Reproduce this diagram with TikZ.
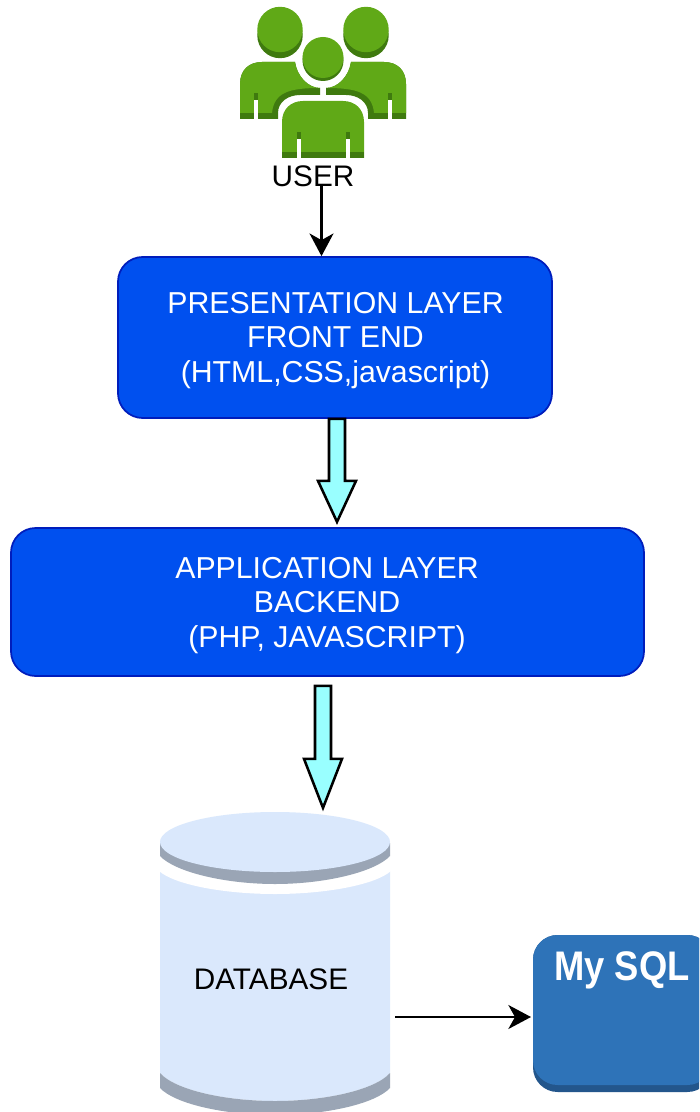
\documentclass[tikz,border=0pt]{standalone}
\usepackage{fontspec}
\setmainfont{Liberation Sans}
\usetikzlibrary{arrows.meta,calc}
\definecolor{grn}{HTML}{60A917}
\definecolor{grnd}{HTML}{3F7A0F}
\definecolor{layerfill}{HTML}{0050EF}
\definecolor{layerline}{HTML}{001DBC}
\definecolor{cyanfill}{HTML}{99FFFF}
\definecolor{dblight}{HTML}{DAE8FC}
\definecolor{dbdark}{HTML}{9AA5B5}
\definecolor{sqlblue}{HTML}{2E73B8}
\definecolor{sqldark}{HTML}{23568C}
\tikzset{
  layer/.style={draw=layerline,fill=layerfill,line width=1.3pt,rounded corners=18.5pt,inner sep=0pt},
  layertext/.style={text=white,align=center,inner sep=0pt,font=\fontsize{22.7}{26}\selectfont},
  blockarrow/.style={draw=black,fill=cyanfill,line width=1.9pt,line join=miter},
  thinarrow/.style={draw=black,line width=1.6pt,-{Stealth[length=17pt,width=18pt,inset=5pt]}},
  label/.style={inner sep=0pt,font=\fontsize{22.3}{26}\selectfont,text=black},
  ghost/.style={inner sep=0pt,outer sep=0pt}
}
\newcommand{\bodyL}{(240,119) -- (240,84) .. controls (240,70) and (249,62) .. (262,62) -- (295,62) .. controls (297,76) and (308,88) .. (320,88) -- (320,95) -- (300,95) .. controls (288,95) and (278,102) .. (278,113) -- (278,119) -- cycle}
\newcommand{\bodyLtop}{(240,113) -- (240,84) .. controls (240,70) and (249,62) .. (262,62) -- (295,62) .. controls (297,76) and (308,88) .. (320,88) .. controls (290,88) and (274,92) .. (272,113) -- cycle}
\begin{document}
\begin{tikzpicture}[x=0.75pt,y=-0.75pt]
\useasboundingbox (0,0) rectangle (699,1112);
\clip (0,0) rectangle (699,1112);
\fill[white] (0,0) rectangle (699,1112);
% users
\fill[grnd] \bodyL;
\fill[grn] \bodyLtop;
\fill[grnd] (254,93) rectangle (258,100);
\fill[white] (254,100) rectangle (258,120);
\begin{scope}[xshift=484.5pt,xscale=-1]
\fill[grnd] \bodyL;
\fill[grn] \bodyLtop;
\fill[grnd] (254,93) rectangle (258,100);
\fill[white] (254,100) rectangle (258,120);
\end{scope}
\fill[grnd] (280,35.5) circle[radius=22.7];
\fill[grn] (280,29.5) circle[radius=22.7];
\fill[grnd] (366,35.5) circle[radius=22.7];
\fill[grn] (366,29.5) circle[radius=22.7];
\fill[grnd] (323,60.5) circle[radius=20.5];
\fill[grn] (323,57.5) circle[radius=20.5];
\fill[grn] (282,158) -- (282,122) .. controls (282,109) and (291,101) .. (303,101) -- (343,101) .. controls (355,101) and (364,109) .. (364,122) -- (364,158) -- cycle;
\fill[grnd] (282,152) rectangle (364,158);
\fill[grnd] (297,132) rectangle (300.5,139);
\fill[white] (297,139) rectangle (300.5,159);
\fill[grnd] (346,132) rectangle (349.5,139);
\fill[white] (346,139) rectangle (349.5,159);
\node[label] (user) at (313,176) {USER};
% layers
\node[layer,minimum width=434*0.75pt,minimum height=161*0.75pt] (pres) at (335,337.5) {};
\node[layertext] (prestext) at (335.5,340.5)
  {PRESENTATION LAYER\\FRONT END\\(HTML,CSS,javascript)};
\node[layer,minimum width=633*0.75pt,minimum height=148*0.75pt] (app) at (327.5,602) {};
\node[layertext] (apptext) at (327,605.5)
  {APPLICATION LAYER\\BACKEND\\(PHP, JAVASCRIPT)};
\coordinate (ustart) at ($(user.south)+(8.5,-3)$);
\draw[thinarrow] (ustart) -- (ustart |- pres.north);
% block arrows
\coordinate (a1) at ($(pres.south)+(2,0)$);
\draw[blockarrow] (a1) ++(-8,0) -- ++(0,62) -- ++(-11,0) -- ++(19,41) -- ++(19,-41) -- ++(-11,0) -- ++(0,-62) -- cycle;
\coordinate (a2) at ($(app.south)+(-4.5,9)$);
\draw[blockarrow] (a2) ++(-8,0) -- ++(0,73) -- ++(-11,0) -- ++(19,49) -- ++(19,-49) -- ++(-11,0) -- ++(0,-73) -- cycle;
% database
\fill[dblight] (160,871) -- (160,1073) .. controls (175,1090) and (225,1101) .. (275,1101) .. controls (325,1101) and (375,1090) .. (390,1073) -- (390,871) -- cycle;
\fill[dbdark] (160,1073) .. controls (175,1090) and (225,1101) .. (275,1101) .. controls (325,1101) and (375,1090) .. (390,1073) -- (390,1088) .. controls (375,1104) and (325,1115) .. (275,1115) .. controls (225,1115) and (175,1104) .. (160,1088) -- cycle;
\fill[white] (159,871) .. controls (175,885) and (225,894) .. (275,894) .. controls (325,894) and (375,885) .. (391,871) -- (391,850) -- (159,850) -- cycle;
\fill[dbdark] (160,843) -- (160,856) .. controls (175,872) and (225,884) .. (275,884) .. controls (325,884) and (375,872) .. (390,856) -- (390,843) -- cycle;
\fill[dblight] (275,842) ellipse[x radius=115,y radius=30];
\node[label] (db) at (271,979) {DATABASE};
% mysql
\node[ghost,fill=sqldark,rounded corners=18.5pt,minimum width=179*0.75pt,minimum height=157*0.75pt] (mysqlbase) at (622.5,1013.5) {};
\node[ghost,fill=sqlblue,rounded corners=18.5pt,minimum width=179*0.75pt,minimum height=150*0.75pt] (mysql) at (622.5,1010) {};
\node[inner sep=0pt,text=white,xscale=0.88,font=\fontsize{31}{36}\bfseries\selectfont] (sqltext) at (622,970) {My SQL};
\coordinate (dbout) at (395,1017);
\draw[thinarrow] (dbout) -- ($(dbout -| mysql.west)+(-2,0)$);
\end{tikzpicture}
\end{document}
